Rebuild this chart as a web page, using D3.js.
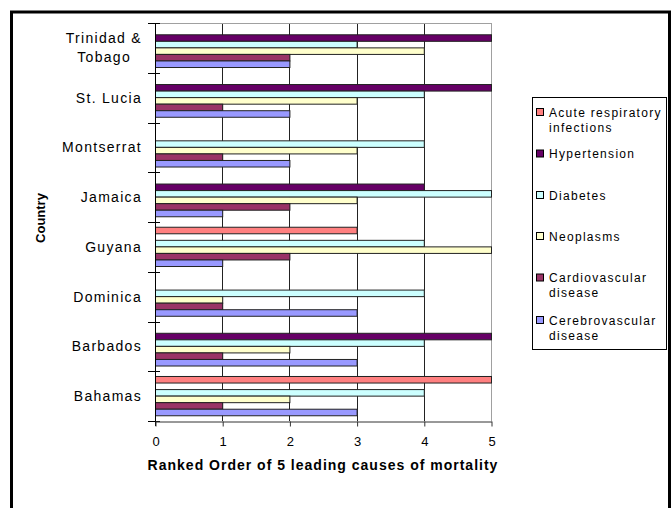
<!DOCTYPE html>
<html>
<head>
<meta charset="utf-8">
<script src="https://cdn.jsdelivr.net/npm/d3@7"></script>
<style>
  body { margin: 0; background: #fff; }
  text { font-family: "Liberation Sans", Arial, sans-serif; fill: #000; }
</style>
</head>
<body>
<div id="chart"></div>
<script>
  // countries, top to bottom
  const countries = ["Trinidad & Tobago", "St. Lucia", "Montserrat", "Jamaica", "Guyana", "Dominica", "Barbados", "Bahamas"];
  const causes = ["Acute respiratory infections", "Hypertension", "Diabetes", "Neoplasms", "Cardiovascular disease", "Cerebrovascular disease"];
  const colors = ["#FF8080", "#660066", "#CCFFFF", "#FFFFCC", "#993366", "#9999FF"];

  // rank values per cause, in country order (0 = not among the 5)
  const acute    = [0, 0, 0, 0, 3, 0, 0, 5];
  const hyper    = [5, 5, 0, 4, 0, 0, 5, 0];
  const diabetes = [3, 4, 4, 5, 4, 4, 4, 4];
  const neo      = [4, 3, 3, 3, 5, 1, 2, 2];
  const cardio   = [2, 1, 1, 2, 2, 1, 1, 1];
  const cerebro  = [2, 2, 2, 1, 1, 3, 3, 3];
  const xTicks = [0, 1, 2, 3, 4, 5];

  const seriesVals = [acute, hyper, diabetes, neo, cardio, cerebro];
  const rows = [];
  countries.forEach((c, i) => {
    causes.forEach((s, j) => rows.push({ country: c, cause: s, value: seriesVals[j][i] }));
  });

  const width = 672, height = 508;
  const svg = d3.select("#chart").append("svg")
    .attr("width", width)
    .attr("height", height);

  // outer frame
  svg.append("rect")
    .attr("x", 11.5).attr("y", 12)
    .attr("width", 658).attr("height", 520)
    .attr("fill", "none")
    .attr("stroke", "#000")
    .attr("stroke-width", 3);

  const x = d3.scaleLinear().domain([0, 5]).range([155, 491]);
  const y = d3.scaleBand().domain(countries).range([23, 421]);
  const y1 = d3.scaleBand().domain(causes).range([0, y.bandwidth()]).paddingOuter(0.8);
  const color = d3.scaleOrdinal().domain(causes).range(colors);

  // gridlines
  svg.selectAll(".grid")
    .data(xTicks.slice(1))
    .enter()
    .append("line")
    .attr("x1", d => Math.round(x(d)) + 0.5)
    .attr("x2", d => Math.round(x(d)) + 0.5)
    .attr("y1", 23).attr("y2", 421)
    .attr("stroke", d => d === 5 ? "#a0a0a0" : "#222");

  // plot top border
  svg.append("line")
    .attr("x1", x(0)).attr("x2", x(5) + 1)
    .attr("y1", 23.5).attr("y2", 23.5)
    .attr("stroke", "#a0a0a0");

  // bars
  svg.selectAll(".bar")
    .data(rows.filter(d => d.value > 0))
    .enter()
    .append("rect")
    .attr("x", x(0) + 0.5)
    .attr("y", d => y(d.country) + y1(d.cause))
    .attr("width", d => x(d.value) - x(0))
    .attr("height", y1.bandwidth())
    .attr("fill", d => color(d.cause))
    .attr("stroke", "#222")
    .attr("stroke-width", 1);

  // left axis line with cross ticks
  svg.append("line")
    .attr("x1", 155.5).attr("x2", 155.5)
    .attr("y1", 23).attr("y2", 426)
    .attr("stroke", "#000");
  svg.selectAll(".ytick")
    .data(d3.range(countries.length + 1))
    .enter()
    .append("line")
    .attr("x1", 148).attr("x2", 160)
    .attr("y1", i => Math.round(23 + i * y.step()) + 0.5)
    .attr("y2", i => Math.round(23 + i * y.step()) + 0.5)
    .attr("stroke", "#000");

  // bottom axis
  const xAxis = svg.append("g")
    .attr("transform", "translate(0.5,421.5)")
    .call(d3.axisBottom(x).tickValues(xTicks).tickFormat(d3.format("d")).tickSize(5).tickSizeOuter(0).tickPadding(10));
  xAxis.select(".domain").attr("stroke", "#333");
  xAxis.selectAll(".tick line").attr("stroke", "#333");
  xAxis.selectAll("text")
    .style("font-family", "'Liberation Sans', Arial, sans-serif")
    .style("font-size", "13px")
    .attr("fill", "#000");

  // country labels
  const labels = svg.selectAll(".clabel")
    .data(countries)
    .enter()
    .append("text")
    .attr("text-anchor", "end")
    .style("font-size", "14px")
    .style("letter-spacing", "1.3px");
  labels.each(function(d) {
    const t = d3.select(this);
    const cy = y(d) + y.bandwidth() / 2;
    if (d === "Trinidad & Tobago") {
      t.append("tspan").attr("x", 142).attr("y", cy - 5).text("Trinidad &");
      t.append("tspan").attr("x", 131).attr("y", cy + 14).text("Tobago");
    } else {
      t.append("tspan").attr("x", 142).attr("y", cy + 5).text(d);
    }
  });

  // axis titles
  svg.append("text")
    .attr("x", 323).attr("y", 470)
    .attr("text-anchor", "middle")
    .style("font-size", "14px")
    .style("font-weight", "bold")
    .style("letter-spacing", "1px")
    .text("Ranked Order of 5 leading causes of mortality");

  svg.append("text")
    .attr("transform", "translate(45,218) rotate(-90)")
    .attr("text-anchor", "middle")
    .style("font-size", "13px")
    .style("font-weight", "bold")
    .text("Country");

  // legend
  svg.append("rect")
    .attr("x", 532.5).attr("y", 97.5)
    .attr("width", 134).attr("height", 252)
    .attr("fill", "#fff")
    .attr("stroke", "#000");

  const legendLines = [
    ["Acute respiratory", "infections"],
    ["Hypertension"],
    ["Diabetes"],
    ["Neoplasms"],
    ["Cardiovascular", "disease"],
    ["Cerebrovascular", "disease"]
  ];
  const legendY = [112, 153.5, 195, 236, 277.5, 320];

  const legend = svg.selectAll(".legend")
    .data(causes)
    .enter()
    .append("g")
    .attr("class", "legend")
    .attr("transform", (d, i) => `translate(0, ${legendY[i]})`);

  legend.append("rect")
    .attr("x", 536.5).attr("y", -3.5)
    .attr("width", 7).attr("height", 7)
    .attr("fill", d => color(d))
    .attr("stroke", "#000");

  legend.append("text")
    .style("font-size", "12px")
    .style("letter-spacing", "1.3px")
    .each(function(d, i) {
      legendLines[i].forEach((ln, k) => {
        d3.select(this).append("tspan")
          .attr("x", 549).attr("y", 4.5 + k * 15)
          .text(ln);
      });
    });
</script>
</body>
</html>
